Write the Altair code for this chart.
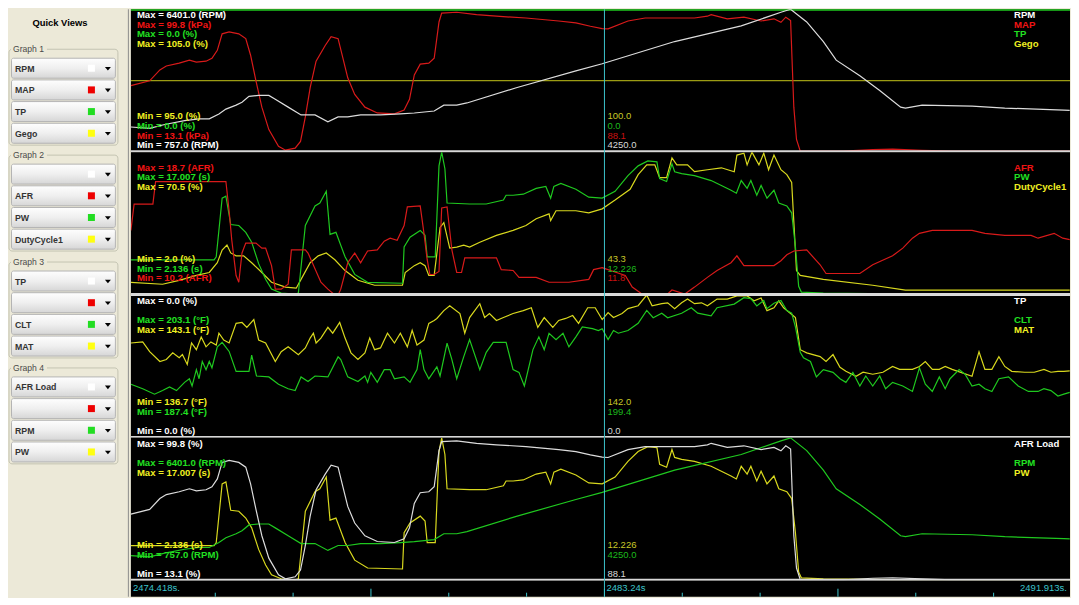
import altair as alt
import pandas as pd

# ---------------------------------------------------------------- data
T0 = 2474.418          # left edge of the log window (s)
T1 = 2491.913          # right edge of the log window (s)
CURSOR = 2483.24       # cursor position (s)

# (seconds after T0, value)
RPM = [(0.00, 1750), (0.35, 1700), (0.63, 1850), (1.00, 2000), (1.27, 2071), (1.46, 2071),
       (1.64, 2265), (1.77, 2458), (1.96, 2613), (2.07, 2729), (2.20, 2961), (2.38, 2999),
       (2.57, 2999), (2.69, 2845), (2.93, 2535), (3.17, 2226), (3.43, 2226), (3.67, 1955),
       (3.86, 2149), (4.04, 2149), (4.28, 2226), (4.65, 2226), (5.02, 2265), (5.28, 2303),
       (5.65, 2381), (5.83, 2613), (6.07, 2613), (6.26, 2700), (7.18, 3300), (8.29, 3966),
       (8.78, 4250), (10.13, 5126), (11.37, 5744), (12.11, 6285), (12.29, 6401), (12.59, 5899),
       (12.90, 5126), (13.14, 4391), (13.58, 3772), (13.95, 3193), (14.34, 2535), (14.43, 2497),
       (14.74, 2613), (15.67, 2574), (16.28, 2497), (17.38, 2419), (17.49, 2410)]

MAP = [(0.00, 53.5), (0.35, 56.4), (0.54, 63.0), (0.66, 65.4), (0.90, 67.1), (1.09, 68.9),
       (1.22, 67.7), (1.40, 68.3), (1.51, 70.1), (1.61, 74.9), (1.70, 84.9), (1.83, 86.1),
       (2.01, 84.9), (2.14, 82.0), (2.23, 71.9), (2.33, 56.4), (2.44, 40.4), (2.57, 26.8),
       (2.75, 16.7), (2.88, 14.3), (3.06, 15.5), (3.16, 19.6), (3.25, 34.5), (3.34, 52.3),
       (3.45, 68.3), (3.62, 77.8), (3.73, 83.2), (3.86, 82.0), (3.95, 70.1), (4.04, 58.2),
       (4.17, 48.1), (4.36, 40.4), (4.59, 36.9), (4.91, 36.3), (5.09, 38.6), (5.19, 45.2),
       (5.28, 60.0), (5.39, 66.5), (5.55, 67.1), (5.65, 70.1), (5.74, 92.1), (5.79, 97.5),
       (6.07, 98.0), (6.44, 96.5), (6.81, 95.6), (7.36, 94.5), (7.97, 92.7), (8.29, 91.5),
       (8.56, 89.5), (8.78, 88.1), (8.89, 87.9), (9.26, 92.7), (9.58, 94.5), (10.50, 94.5),
       (10.74, 95.6), (10.81, 96.5), (11.11, 94.0), (11.42, 95.0), (11.74, 92.7), (11.98, 94.0),
       (12.11, 91.9), (12.20, 95.0), (12.29, 93.0), (12.35, 40.4), (12.40, 20.8), (12.47, 13.7),
       (13.27, 13.7), (13.82, 14.6), (14.19, 14.9), (14.74, 14.2), (15.30, 13.7), (17.49, 13.7)]

PW = [(0.00, 5.8), (1.55, 5.8), (1.59, 6.11), (1.70, 12.22), (1.77, 12.42), (1.86, 9.47),
      (2.01, 9.37), (2.14, 8.66), (2.25, 7.64), (2.38, 5.40), (2.51, 3.77), (2.62, 2.75),
      (2.80, 2.34), (3.06, 2.24), (3.12, 2.34), (3.25, 9.37), (3.43, 11.41), (3.52, 11.71),
      (3.64, 12.93), (3.71, 8.45), (3.82, 8.66), (3.99, 6.11), (4.17, 4.28), (4.41, 3.46),
      (5.06, 3.36), (5.09, 7.13), (5.20, 8.15), (5.39, 8.86), (5.48, 8.35), (5.52, 6.11),
      (5.67, 6.11), (5.74, 15.58), (5.79, 17.0), (5.85, 15.28), (5.89, 11.71), (6.31, 11.61),
      (6.62, 11.61), (6.94, 12.02), (6.99, 12.52), (7.12, 12.52), (7.31, 12.63), (7.55, 13.24),
      (7.73, 13.44), (7.82, 12.22), (7.88, 13.44), (8.01, 13.75), (8.29, 13.14), (8.53, 12.32),
      (8.78, 12.22), (9.02, 12.93), (9.26, 14.56), (9.45, 15.58), (9.63, 16.09), (9.80, 15.99),
      (9.85, 14.26), (9.98, 13.95), (10.08, 15.79), (10.13, 14.97), (10.26, 14.77), (10.50, 14.56),
      (10.81, 14.05), (11.00, 13.54), (11.18, 13.04), (11.28, 12.73), (11.37, 14.05), (11.48, 13.24),
      (11.55, 14.05), (11.66, 12.53), (11.74, 13.54), (11.85, 12.22), (11.98, 13.04), (12.07, 11.71),
      (12.22, 11.41), (12.31, 10.69), (12.38, 7.13), (12.44, 3.05), (12.49, 2.44), (12.90, 2.34),
      (14.19, 2.25), (17.49, 2.2)]

AFR = [(0.00, 14.04), (0.06, 15.61), (0.41, 15.61), (0.46, 16.95), (1.77, 16.95), (1.83, 15.21),
       (1.88, 13.46), (1.96, 11.36), (2.01, 10.96), (2.07, 12.70), (2.14, 13.29), (2.33, 13.29),
       (2.44, 12.99), (2.51, 12.99), (2.62, 11.95), (2.69, 10.55), (2.80, 10.55), (2.93, 10.84),
       (2.99, 12.88), (3.25, 12.88), (3.30, 12.70), (3.54, 10.96), (3.67, 10.55), (3.80, 10.2),
       (3.86, 10.2), (3.91, 10.55), (4.04, 12.12), (4.17, 12.70), (4.28, 12.12), (4.41, 12.82),
       (4.59, 12.88), (4.72, 13.40), (4.83, 13.58), (4.96, 13.46), (5.09, 14.33), (5.15, 15.44),
       (5.39, 15.50), (5.46, 13.87), (5.52, 12.30), (5.57, 11.42), (5.65, 11.42), (5.74, 11.6),
       (5.79, 15.38), (5.89, 15.44), (5.98, 12.88), (6.07, 11.54), (6.16, 11.54), (6.22, 12.41),
       (6.81, 12.41), (6.90, 11.71), (7.12, 11.66), (7.23, 11.25), (7.55, 11.25), (7.79, 10.96),
       (8.16, 10.96), (8.53, 11.13), (8.62, 11.71), (8.78, 11.83), (9.21, 11.36), (9.34, 10.67),
       (9.52, 10.26), (10.00, 10.26), (10.08, 10.5), (10.32, 10.26), (10.50, 10.67), (10.74, 11.25),
       (10.92, 11.66), (11.18, 12.12), (11.29, 12.53), (11.42, 11.95), (11.98, 11.95), (12.11, 12.24),
       (12.22, 12.59), (12.35, 12.82), (12.59, 12.88), (12.84, 12.00), (12.95, 11.48), (13.58, 11.48),
       (13.82, 12.00), (14.19, 12.53), (14.38, 12.99), (14.56, 13.58), (14.69, 13.87), (14.93, 14.04),
       (15.67, 14.04), (15.91, 13.87), (16.28, 13.75), (16.77, 13.75), (16.90, 13.58), (17.20, 13.87),
       (17.36, 13.58), (17.49, 13.5)]

DUTY = [(0.00, 8.1), (0.59, 7.16), (0.90, 9.04), (1.22, 11.38), (1.46, 12.79), (1.61, 17.48),
        (1.70, 23.58), (1.79, 25.93), (1.86, 22.18), (1.96, 20.77), (2.10, 20.77), (2.25, 17.48),
        (2.44, 12.79), (2.62, 8.1), (2.88, 5.75), (3.08, 5.28), (3.17, 9.51), (3.34, 17.48),
        (3.49, 20.77), (3.64, 22.18), (3.80, 18.89), (3.99, 13.73), (4.23, 9.04), (4.54, 6.69),
        (5.06, 6.69), (5.11, 12.79), (5.28, 16.08), (5.39, 17.48), (5.48, 16.08), (5.55, 11.38),
        (5.65, 11.38), (5.76, 34.4), (5.83, 36.7), (5.94, 24.5), (6.07, 25.0), (6.20, 25.9),
        (6.31, 25.0), (6.50, 27.3), (6.81, 30.6), (7.12, 33.0), (7.36, 35.3), (7.55, 38.6),
        (7.79, 40.9), (7.82, 37.7), (7.92, 42.4), (8.29, 42.4), (8.53, 41.4), (8.78, 43.3),
        (9.02, 47.5), (9.30, 52.67), (9.45, 59.71), (9.61, 64.40), (9.76, 64.40), (9.85, 58.30),
        (9.98, 58.30), (10.08, 67.69), (10.17, 64.40), (10.37, 64.40), (10.50, 61.12), (10.74, 62.06),
        (11.00, 63.0), (11.24, 61.12), (11.29, 69.1), (11.42, 70.0), (11.48, 64.40), (11.57, 70.5),
        (11.70, 64.40), (11.79, 70.0), (11.88, 62.06), (11.98, 69.1), (12.11, 62.06), (12.22, 59.71),
        (12.31, 55.96), (12.36, 32.5), (12.40, 13.73), (12.47, 11.38), (12.90, 9.51), (13.82, 6.69),
        (14.43, 4.35), (17.49, 4.35)]

CLT = [(0.00, 193.3), (0.22, 192.8), (0.44, 192.2), (0.59, 192.6), (0.72, 193.0), (0.85, 192.6),
       (1.00, 193.5), (1.09, 193.9), (1.14, 193.1), (1.22, 194.9), (1.27, 193.9), (1.33, 195.8),
       (1.40, 194.9), (1.46, 195.8), (1.51, 195.1), (1.61, 197.4), (1.70, 197.9), (1.83, 196.9),
       (1.96, 194.7), (2.20, 194.7), (2.25, 196.5), (2.34, 194.2), (2.57, 194.1), (2.75, 193.3),
       (2.93, 192.8), (3.06, 192.6), (3.17, 194.1), (3.30, 193.6), (3.43, 194.2), (3.67, 194.1),
       (3.86, 196.3), (3.91, 196.0), (4.04, 194.1), (4.23, 193.6), (4.36, 194.2), (4.41, 193.5),
       (4.47, 194.6), (4.59, 193.5), (4.72, 194.9), (4.83, 194.9), (4.91, 193.9), (5.09, 194.1),
       (5.20, 193.5), (5.33, 194.9), (5.39, 197.1), (5.46, 194.9), (5.55, 193.9), (5.70, 195.2),
       (5.76, 194.2), (5.89, 197.8), (5.98, 196.0), (6.07, 193.9), (6.20, 196.3), (6.31, 198.2),
       (6.50, 194.9), (6.62, 196.8), (6.75, 197.9), (6.99, 197.9), (7.12, 194.9), (7.23, 194.6),
       (7.33, 193.1), (7.49, 197.1), (7.60, 198.5), (7.70, 197.1), (7.79, 198.9), (7.92, 198.2),
       (8.05, 198.9), (8.16, 197.4), (8.29, 198.5), (8.41, 199.6), (8.60, 199.4), (8.71, 199.2),
       (8.78, 199.4), (8.89, 198.2), (8.99, 199.2), (9.08, 198.9), (9.26, 199.2), (9.45, 200.0),
       (9.61, 201.4), (9.73, 200.6), (9.89, 201.1), (10.00, 200.6), (10.26, 201.1), (10.44, 201.7),
       (10.56, 201.1), (10.81, 200.8), (10.92, 201.7), (11.24, 202.1), (11.42, 202.8), (11.55, 202.7),
       (11.66, 201.9), (11.79, 202.5), (11.85, 201.6), (11.98, 202.2), (12.11, 202.5), (12.22, 201.4),
       (12.31, 201.1), (12.38, 199.6), (12.47, 196.8), (12.53, 196.2), (12.66, 195.8), (12.77, 194.1),
       (12.90, 194.9), (13.08, 194.6), (13.21, 193.9), (13.32, 193.5), (13.45, 194.6), (13.58, 193.1),
       (13.69, 194.2), (13.82, 193.1), (13.95, 194.2), (14.06, 192.8), (14.19, 193.5), (14.38, 193.1),
       (14.56, 192.5), (14.69, 195.1), (14.80, 193.3), (14.93, 192.5), (15.06, 194.1), (15.17, 192.8),
       (15.26, 193.9), (15.43, 194.9), (15.54, 194.4), (15.67, 193.1), (15.80, 193.3), (15.91, 192.8),
       (16.04, 192.5), (16.17, 193.9), (16.35, 194.1), (16.53, 193.1), (16.72, 192.5), (16.90, 192.5),
       (17.01, 192.8), (17.14, 192.6), (17.27, 192.0), (17.38, 192.2), (17.49, 192.4)]

MAT = [(0.00, 140.95), (0.22, 141.0), (0.35, 140.56), (0.54, 140.12), (0.66, 140.21), (0.78, 140.51),
       (0.90, 140.29), (0.96, 140.43), (1.05, 139.99), (1.13, 140.95), (1.22, 140.65), (1.31, 141.22),
       (1.40, 140.78), (1.49, 141.0), (1.59, 140.86), (1.64, 141.39), (1.73, 141.08), (1.83, 140.95),
       (1.96, 141.83), (2.07, 141.87), (2.16, 141.65), (2.29, 142.0), (2.38, 141.08), (2.51, 140.95),
       (2.69, 140.12), (2.80, 140.56), (2.93, 140.78), (3.12, 140.43), (3.25, 140.73), (3.34, 141.17),
       (3.40, 141.39), (3.45, 140.95), (3.54, 141.17), (3.67, 141.65), (3.76, 141.39), (3.89, 141.87),
       (3.99, 141.17), (4.10, 140.51), (4.23, 140.21), (4.36, 140.51), (4.45, 141.17), (4.54, 140.65),
       (4.65, 140.73), (4.78, 141.39), (4.91, 140.95), (5.02, 141.39), (5.15, 140.78), (5.24, 141.52),
       (5.33, 140.86), (5.46, 141.08), (5.55, 141.83), (5.65, 141.96), (5.70, 142.05), (5.83, 142.4),
       (5.94, 142.62), (6.13, 142.27), (6.22, 141.39), (6.31, 142.09), (6.50, 142.71), (6.59, 142.09),
       (6.68, 142.27), (6.81, 141.96), (6.94, 142.09), (7.12, 142.27), (7.31, 142.4), (7.46, 142.53),
       (7.58, 141.65), (7.70, 142.09), (7.86, 141.65), (7.97, 141.96), (8.10, 142.05), (8.23, 142.18),
       (8.34, 141.83), (8.51, 142.53), (8.65, 142.53), (8.78, 142.0), (8.89, 142.31), (8.99, 142.09),
       (9.15, 142.27), (9.26, 142.49), (9.45, 142.62), (9.61, 143.1), (9.71, 142.62), (9.89, 142.71),
       (10.00, 142.75), (10.13, 142.49), (10.26, 142.75), (10.37, 142.92), (10.50, 142.71), (10.63, 142.75),
       (10.74, 142.62), (10.92, 142.92), (11.11, 142.92), (11.29, 143.06), (11.48, 143.06), (11.61, 142.84),
       (11.74, 142.97), (11.85, 142.4), (11.98, 142.53), (12.07, 142.84), (12.16, 142.53), (12.29, 142.27),
       (12.38, 142.09), (12.47, 140.65), (12.59, 140.51), (12.84, 140.34), (12.95, 140.12), (13.08, 140.43),
       (13.21, 139.86), (13.32, 139.68), (13.51, 139.46), (13.64, 139.64), (13.82, 139.55), (14.01, 139.64),
       (14.19, 139.9), (14.32, 139.77), (14.56, 139.77), (14.69, 139.9), (14.80, 140.12), (14.93, 139.77),
       (15.06, 139.77), (15.17, 139.9), (15.30, 139.77), (15.67, 139.46), (15.80, 140.56), (15.91, 139.77),
       (16.04, 139.77), (16.17, 140.34), (16.28, 139.9), (16.41, 139.68), (16.65, 139.64), (16.83, 139.64),
       (17.01, 139.77), (17.14, 139.64), (17.27, 139.68), (17.38, 139.68), (17.49, 139.7)]

GEGO = [(0.0, 100.0), (17.495, 100.0)]
TP = [(0.0, 0.0), (17.495, 0.0)]

TICKS_MINOR = [2475.99, 2477.44, 2480.34, 2481.79, 2484.69, 2486.14, 2489.04, 2490.49]
TICKS_MAJOR = [2478.89, 2483.24, 2487.59]
TIME_LABELS = ["2474.418s.", "2483.24s", "2491.913s."]

QUICK_VIEWS = [["RPM", "MAP", "TP", "Gego"],
               ["", "AFR", "PW", "DutyCycle1"],
               ["TP", "", "CLT", "MAT"],
               ["AFR Load", "", "RPM", "PW"]]

PANELS = [
    {"names": ["RPM", "MAP", "TP", "Gego"],
     "max": ["Max = 6401.0 (RPM)", "Max = 99.8 (kPa)", "Max = 0.0 (%)", "Max = 105.0 (%)"],
     "min": ["Min = 757.0 (RPM)", "Min = 13.1 (kPa)", "Min = 0.0 (%)", "Min = 95.0 (%)"],
     "cur": ["4250.0", "88.1", "0.0", "100.0"]},
    {"names": ["", "AFR", "PW", "DutyCycle1"],
     "max": ["", "Max = 18.7 (AFR)", "Max = 17.007 (s)", "Max = 70.5 (%)"],
     "min": ["", "Min = 10.2 (AFR)", "Min = 2.136 (s)", "Min = 2.0 (%)"],
     "cur": ["", "11.8", "12.226", "43.3"]},
    {"names": ["TP", "", "CLT", "MAT"],
     "max": ["Max = 0.0 (%)", "", "Max = 203.1 (°F)", "Max = 143.1 (°F)"],
     "min": ["Min = 0.0 (%)", "", "Min = 187.4 (°F)", "Min = 136.7 (°F)"],
     "cur": ["0.0", "", "199.4", "142.0"]},
    {"names": ["AFR Load", "", "RPM", "PW"],
     "max": ["Max = 99.8 (%)", "", "Max = 6401.0 (RPM)", "Max = 17.007 (s)"],
     "min": ["Min = 13.1 (%)", "", "Min = 757.0 (RPM)", "Min = 2.136 (s)"],
     "cur": ["88.1", "", "4250.0", "12.226"]},
]

# ---------------------------------------------------------------- style
FONT = "Liberation Sans"
BEIGE = "#ECE9D8"
CYAN = "#3cc4cc"
LINE = ["#dcdcdc", "#d81a1a", "#1fc81f", "#d8d81e"]
TXT = ["#ffffff", "#f01414", "#22e022", "#f0f022"]
CUR_TXT = ["#d8d8d8", "#c81010", "#1cb81c", "#c8c828"]
SQUARE = ["#ffffff", "#ee0000", "#22dd22", "#ffff10"]
GEGO_COL = "#9c9c14"

W = 940      # graph area width
HG = 143     # each graph height
HS = 16      # time strip height
LW = 123     # left panel width
HT = HG * 4 + HS

TIME = alt.Scale(domain=[T0, T1], nice=False, zero=False)


def series_layer(points, lo, hi, color, width=1.2):
    df = pd.DataFrame({"time": [T0 + t for t, _ in points], "value": [v for _, v in points]})
    return alt.Chart(df).mark_line(color=color, strokeWidth=width, clip=True).encode(
        x=alt.X("time:Q", scale=TIME, axis=None),
        y=alt.Y("value:Q", scale=alt.Scale(domain=[lo, hi], nice=False, zero=False), axis=None),
    )


def text_layer(rows, bold=True, size=9.6, align="left"):
    df = pd.DataFrame(rows, columns=["px", "py", "label", "c"])
    return alt.Chart(df).mark_text(align=align, baseline="middle", font=FONT, fontSize=size,
                                   fontWeight="bold" if bold else "normal").encode(
        x=alt.X("px:Q", scale=None), y=alt.Y("py:Q", scale=None),
        text="label:N", color=alt.Color("c:N", scale=None))


def cursor_rule():
    return alt.Chart(pd.DataFrame({"time": [CURSOR]})).mark_rule(color=CYAN, strokeWidth=1).encode(
        x=alt.X("time:Q", scale=TIME, axis=None))


def panel(spec, series):
    layers = [series_layer(*s) for s in series]
    layers.append(alt.Chart(pd.DataFrame({"a": [0]})).mark_rule(color="#d8d8d8", strokeWidth=2).encode(
        x=alt.value(0), x2=alt.value(W), y=alt.value(HG - 1)))
    layers.append(cursor_rule())
    bold_rows, cur_rows = [], []
    for i in range(4):
        if spec["max"][i]:
            bold_rows.append((6, 6 + 9.6 * i, spec["max"][i], TXT[i]))
        if spec["min"][i]:
            bold_rows.append((6, HG - 7 - 9.6 * i, spec["min"][i], TXT[i]))
        if spec["names"][i]:
            bold_rows.append((W - 56, 6 + 9.6 * i, spec["names"][i], TXT[i]))
        if spec["cur"][i]:
            cur_rows.append((CURSOR, HG - 7 - 9.6 * i, spec["cur"][i], CUR_TXT[i]))
    layers.append(text_layer(bold_rows))
    cdf = pd.DataFrame(cur_rows, columns=["time", "py", "label", "c"])
    layers.append(alt.Chart(cdf).mark_text(align="left", baseline="middle", dx=3, font=FONT,
                                           fontSize=9.5).encode(
        x=alt.X("time:Q", scale=TIME, axis=None), y=alt.Y("py:Q", scale=None),
        text="label:N", color=alt.Color("c:N", scale=None)))
    return alt.layer(*layers).resolve_scale(x="independent", y="independent").properties(
        width=W, height=HG, view=alt.ViewBackground(fill="#000000", stroke="#000000"))


g1 = panel(PANELS[0], [(GEGO, 95, 105, GEGO_COL), (TP, -1, 0, LINE[2], 3),
                       (MAP, 13.1, 99.8, LINE[1]), (RPM, 757, 6401, LINE[0])])
g2 = panel(PANELS[1], [(DUTY, 2.0, 70.5, LINE[3]), (PW, 2.136, 17.007, LINE[2]),
                       (AFR, 10.2, 18.7, LINE[1])])
g3 = panel(PANELS[2], [(MAT, 136.7, 143.1, LINE[3]), (CLT, 187.4, 203.1, LINE[2]),
                       (TP, -1, 0, LINE[0], 2)])
g4 = panel(PANELS[3], [(PW, 2.136, 17.007, LINE[3]), (RPM, 757, 6401, LINE[2]),
                       (MAP, 13.1, 99.8, LINE[0])])

# time strip
minor = alt.Chart(pd.DataFrame({"time": TICKS_MINOR})).mark_rule(color=CYAN).encode(
    x=alt.X("time:Q", scale=TIME, axis=None), y=alt.value(HS - 4), y2=alt.value(HS))
major = alt.Chart(pd.DataFrame({"time": TICKS_MAJOR})).mark_rule(color=CYAN).encode(
    x=alt.X("time:Q", scale=TIME, axis=None), y=alt.value(HS - 8), y2=alt.value(HS))
lab_left = text_layer([(2, 7, TIME_LABELS[0], CYAN)], bold=False, size=9.5)
lab_right = text_layer([(W - 3, 7, TIME_LABELS[2], CYAN)], bold=False, size=9.5, align="right")
lab_cur = alt.Chart(pd.DataFrame({"time": [CURSOR], "label": [TIME_LABELS[1]]})).mark_text(
    align="left", baseline="middle", dx=2, font=FONT, fontSize=9.5, color=CYAN).encode(
    x=alt.X("time:Q", scale=TIME, axis=None), y=alt.value(7), text="label:N")
strip = alt.layer(minor, major, cursor_rule(), lab_left, lab_cur, lab_right).resolve_scale(
    x="independent", y="independent").properties(
    width=W, height=HS, view=alt.ViewBackground(fill="#000000", stroke="#000000"))

# ---------------------------------------------------------------- left panel
GROUP_TOP = [40, 146, 253, 359]
btn_rows, sq_rows, txt_rows, box_rows, patch_rows, glab_rows = [], [], [], [], [], []
for g, labels in enumerate(QUICK_VIEWS):
    top = GROUP_TOP[g]
    box_rows.append({"x0": 1, "x1": 110, "y0": top, "y1": top + 96})
    patch_rows.append({"x0": 3, "x1": 39, "y0": top - 5, "y1": top + 5})
    glab_rows.append((5, top, f"Graph {g + 1}", "#4a4a4a"))
    for i, lab in enumerate(labels):
        y0 = top + 9 + 21.7 * i
        btn_rows.append({"x0": 3.5, "x1": 107.5, "y0": y0, "y1": y0 + 20, "yc": y0 + 10.5})
        sq_rows.append({"x0": 80, "x1": 87, "y0": y0 + 6.5, "y1": y0 + 13.5, "c": SQUARE[i]})
        if lab:
            txt_rows.append((7, y0 + 10.5, lab, "#333333"))


def rect_layer(rows, **mark):
    return alt.Chart(pd.DataFrame(rows)).mark_rect(**mark).encode(
        x=alt.X("x0:Q", scale=None), x2="x1:Q", y=alt.Y("y0:Q", scale=None), y2="y1:Q")


boxes = rect_layer(box_rows, filled=False, stroke="#c4c4b2", strokeWidth=1, cornerRadius=3)
patches = rect_layer(patch_rows, color=BEIGE)
grad = alt.LinearGradient(gradient="linear", x1=0, x2=0, y1=0, y2=1,
                          stops=[alt.GradientStop(color="#fefefe", offset=0),
                                 alt.GradientStop(color="#efefef", offset=0.5),
                                 alt.GradientStop(color="#d6d6d6", offset=1)])
buttons = rect_layer(btn_rows, fill=grad, stroke="#b4b4b4", strokeWidth=1, cornerRadius=2)
squares = alt.Chart(pd.DataFrame(sq_rows)).mark_rect().encode(
    x=alt.X("x0:Q", scale=None), x2="x1:Q", y=alt.Y("y0:Q", scale=None), y2="y1:Q",
    color=alt.Color("c:N", scale=None))
arrows = alt.Chart(pd.DataFrame(btn_rows)).mark_point(
    shape="M-1,-0.6L1,-0.6L0,0.6Z", filled=True, size=36, color="#000000", opacity=1).encode(
    x=alt.value(100), y=alt.Y("yc:Q", scale=None))
btn_text = text_layer(txt_rows, bold=True, size=8.8)
grp_text = text_layer(glab_rows, bold=False, size=8.6)
title = text_layer([(52, 14, "Quick Views", "#000000")], bold=True, size=9.4, align="center")
divider = alt.Chart(pd.DataFrame({"a": [0]})).mark_rule(color="#8c8c8c", strokeWidth=1).encode(
    x=alt.value(120.5), y=alt.value(0), y2=alt.value(HT))

left = alt.layer(boxes, patches, buttons, squares, arrows, btn_text, grp_text, title, divider
                 ).resolve_scale(x="independent", y="independent").properties(width=LW, height=HT)

right = alt.vconcat(g1, g2, g3, g4, strip, spacing=0, bounds="flush")
chart = alt.hconcat(left, right, spacing=0, bounds="flush").properties(
    padding=0, background=BEIGE).configure_view(strokeWidth=0)

chart.save("out.html", embed_options={"renderer": "svg", "actions": False})
